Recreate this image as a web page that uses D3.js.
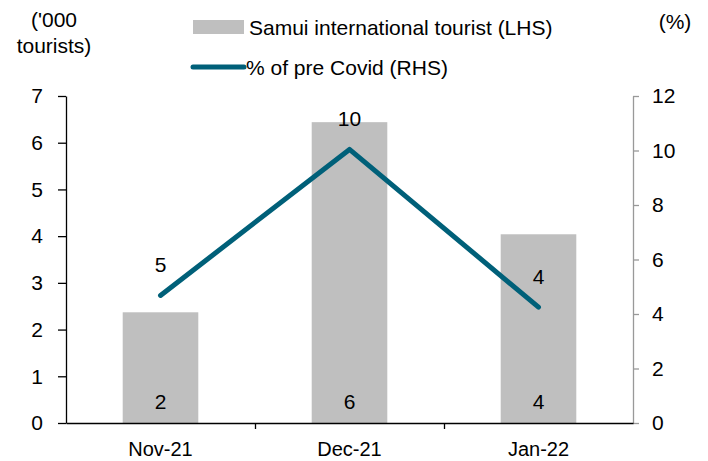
<!DOCTYPE html>
<html>
<head>
<meta charset="utf-8">
<script src="https://cdn.jsdelivr.net/npm/d3@7"></script>
<style>
  body { margin: 0; background: #fff; }
  svg text { font-family: 'Liberation Sans', Arial, sans-serif; fill: #000; }
</style>
</head>
<body>
<svg id="chart"></svg>
<script>
const width = 708
const height = 461
const fs = '21px'

// data
const months = ['Nov-21', 'Dec-21', 'Jan-22']
const tourists = [2.37, 6.44, 4.04] // '000 tourists (LHS)
const pctPreCovid = [4.68, 10.04, 4.25] // % of pre Covid (RHS)
const touristLabels = ['2', '6', '4']
const pctLabels = ['5', '10', '4']
const leftTicks = [0, 1, 2, 3, 4, 5, 6, 7]
const rightTicks = [0, 2, 4, 6, 8, 10, 12]

const margin = { top: 96, right: 75, bottom: 38, left: 66 }

const svg = d3.select('#chart').attr('width', width).attr('height', height)

// category positions: each month takes a third of the axis, bars 40% of that
const x = d3
  .scaleBand()
  .domain(months)
  .range([margin.left, width - margin.right])
  .paddingInner(0.6)
  .paddingOuter(0.3)
const cx = (d) => x(d) + x.bandwidth() / 2

const yL = d3.scaleLinear().domain([0, 7]).range([height - margin.bottom, margin.top])
const yR = d3.scaleLinear().domain([0, 12]).range([height - margin.bottom, margin.top])

// --------------------------------------------------------------
// bars
svg
  .append('g')
  .selectAll('rect')
  .data(tourists)
  .join('rect')
  .attr('x', (d, i) => x(months[i]))
  .attr('width', x.bandwidth())
  .attr('y', (d) => yL(d))
  .attr('height', (d) => yL(0) - yL(d))
  .attr('fill', '#bfbfbf')

// bar labels near the base
svg
  .append('g')
  .selectAll('text')
  .data(touristLabels)
  .join('text')
  .attr('x', (d, i) => cx(months[i]))
  .attr('y', yL(0) - 14)
  .attr('text-anchor', 'middle')
  .style('font-size', fs)
  .text((d) => d)

// --------------------------------------------------------------
// axes
const axisL = svg
  .append('g')
  .attr('transform', `translate(${margin.left},0)`)
  .call(
    d3.axisLeft(yL).tickValues(leftTicks).tickFormat(d3.format('d')).tickSize(8).tickPadding(15).tickSizeOuter(0)
  )
axisL.select('.domain').attr('stroke', '#000').attr('stroke-width', 1.3)
axisL.selectAll('.tick line').attr('stroke', '#000').attr('stroke-width', 1.3)
axisL.selectAll('.tick text').style('font-size', fs).attr('fill', '#000')

const axisR = svg
  .append('g')
  .attr('transform', `translate(${width - margin.right},0)`)
  .call(
    d3.axisRight(yR).tickValues(rightTicks).tickFormat(d3.format('d')).tickSize(6).tickPadding(13).tickSizeOuter(0)
  )
axisR.select('.domain').attr('stroke', '#999').attr('stroke-width', 1.3)
axisR.selectAll('.tick line').attr('stroke', '#999').attr('stroke-width', 1.3)
axisR.selectAll('.tick text').style('font-size', fs).attr('fill', '#000')

// category axis: ticks sit between categories
const xb = d3.scaleLinear().domain([0, months.length]).range([margin.left, width - margin.right])
const axisB = svg
  .append('g')
  .attr('transform', `translate(0,${yL(0)})`)
  .call(d3.axisBottom(xb).tickValues([1, 2]).tickSize(6).tickSizeOuter(0).tickFormat(''))
axisB.select('.domain').attr('stroke', '#000').attr('stroke-width', 1.3)
axisB.selectAll('.tick line').attr('stroke', '#000').attr('stroke-width', 1.3)

svg
  .append('g')
  .selectAll('text')
  .data(months)
  .join('text')
  .attr('x', (d) => cx(d))
  .attr('y', yL(0) + 33)
  .attr('text-anchor', 'middle')
  .style('font-size', '20px')
  .text((d) => d)

// --------------------------------------------------------------
// line
const line = d3
  .line()
  .x((d, i) => cx(months[i]))
  .y((d) => yR(d))

svg
  .append('path')
  .datum(pctPreCovid)
  .attr('d', line)
  .attr('fill', 'none')
  .attr('stroke', '#006079')
  .attr('stroke-width', 5)
  .attr('stroke-linecap', 'round')
  .attr('stroke-linejoin', 'round')

svg
  .append('g')
  .selectAll('text')
  .data(pctLabels)
  .join('text')
  .attr('x', (d, i) => cx(months[i]))
  .attr('y', (d, i) => yR(pctPreCovid[i]) - 23)
  .attr('text-anchor', 'middle')
  .style('font-size', fs)
  .text((d) => d)

// --------------------------------------------------------------
// axis titles
svg.append('text').attr('x', 54).attr('y', 27).attr('text-anchor', 'middle').style('font-size', fs).text("('000")
svg.append('text').attr('x', 54).attr('y', 53).attr('text-anchor', 'middle').style('font-size', fs).text('tourists)')
svg.append('text').attr('x', 675).attr('y', 29).attr('text-anchor', 'middle').style('font-size', fs).text('(%)')

// legend
const legend = svg.append('g')
legend.append('rect').attr('x', 193).attr('y', 20).attr('width', 51).attr('height', 14).attr('fill', '#bfbfbf')
legend.append('text').attr('x', 249).attr('y', 35).style('font-size', fs).text('Samui international tourist (LHS)')
legend
  .append('line')
  .attr('x1', 193)
  .attr('x2', 244)
  .attr('y1', 67)
  .attr('y2', 67)
  .attr('stroke', '#006079')
  .attr('stroke-width', 5)
  .attr('stroke-linecap', 'round')
legend.append('text').attr('x', 246).attr('y', 75).style('font-size', fs).text('% of pre Covid (RHS)')
</script>
</body>
</html>
